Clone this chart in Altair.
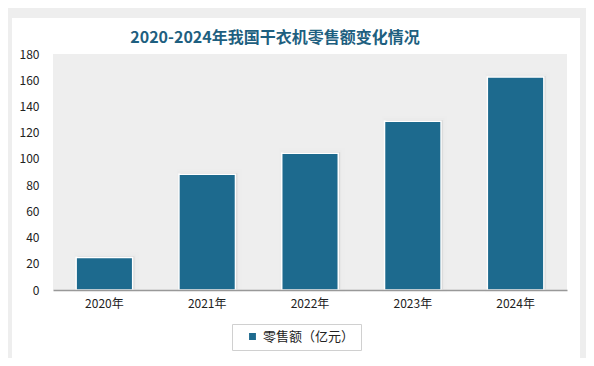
import altair as alt
import pandas as pd

years = ["2020年", "2021年", "2022年", "2023年", "2024年"]
sales = [24.8, 88.3, 104.3, 128.8, 162.4]
series_name = "零售额（亿元）"
title_text = "2020-2024年我国干衣机零售额变化情况"
y_ticks = [0, 20, 40, 60, 80, 100, 120, 140, 160, 180]

df = pd.DataFrame({"year": years, "value": sales, "series": [series_name] * len(years)})

W, H = 514, 236

card = alt.Chart(pd.DataFrame({"a": [0]})).mark_rect(color="white", clip=False).encode(
    x=alt.value(-41), x2=alt.value(527), y=alt.value(-36), y2=alt.value(310)
)

hatch = alt.Chart(pd.DataFrame({"a": [0]})).mark_rect(color="#eeeeee").encode(
    x=alt.value(0), x2=alt.value(W), y=alt.value(0), y2=alt.value(H)
)

xenc = alt.X("year:N", sort=years,
             scale=alt.Scale(paddingInner=0.45, paddingOuter=0.225),
             axis=alt.Axis(title=None, labelAngle=0, labelFontSize=12, labelColor="#222",
                           labelFont="Noto Sans CJK SC", domainColor="#999", domainWidth=1.5,
                           ticks=False, labelPadding=8, zindex=1))
yenc = alt.Y("value:Q", scale=alt.Scale(domain=[0, 180], nice=False),
             axis=alt.Axis(title=None, values=y_ticks, grid=False, domain=False, ticks=False,
                           labelFontSize=12, labelColor="#222", labelFont="Noto Sans CJK SC",
                           labelPadding=14, zindex=1))

shadow1 = alt.Chart(df).mark_bar(color="#000", opacity=0.06, stroke="#000",
                                 strokeWidth=8, strokeOpacity=0.05,
                                 xOffset=2, yOffset=-1).encode(x=xenc, y=yenc)
shadow2 = alt.Chart(df).mark_bar(color="#000", opacity=0.08, stroke="#000",
                                 strokeWidth=4, strokeOpacity=0.08,
                                 xOffset=1, yOffset=-1).encode(x=xenc, y=yenc)

bars = alt.Chart(df).mark_bar(stroke="white", strokeWidth=1.5).encode(
    x=xenc,
    y=yenc,
    color=alt.Color("series:N", scale=alt.Scale(range=["#1d6a8e"]),
                    legend=alt.Legend(title=None, orient="none", legendX=179, legendY=270,
                                      symbolType="square", symbolSize=70,
                                      labelFontSize=13, labelFont="Noto Sans CJK SC",
                                      labelColor="#222", strokeColor="#d0d0d0",
                                      padding=6, symbolOffset=8, fillColor="white")),
)

title = alt.Chart(pd.DataFrame({"a": [0]})).mark_text(
    text=title_text, font="Noto Sans CJK SC", fontWeight="bold", fontSize=16,
    color="#1e5f80", align="center", baseline="middle"
).encode(x=alt.value(222), y=alt.value(-16))

chart = alt.layer(card, hatch, shadow1, shadow2, bars, title).properties(
    width=W, height=H,
    padding={"left": 45, "top": 46, "right": 19, "bottom": 68},
    autosize=alt.AutoSizeParams(type="none"),
    background="#eeeeee",
).configure_view(stroke=None)

chart.save("out.html", embed_options={"renderer": "svg", "actions": False})
